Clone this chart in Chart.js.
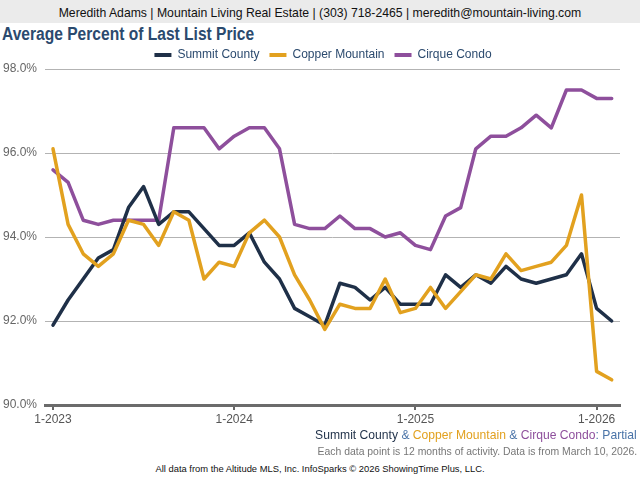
<!DOCTYPE html>
<html>
<head>
<meta charset="utf-8">
<script src="https://cdn.jsdelivr.net/npm/chart.js@4.4.1/dist/chart.umd.min.js"></script>
<style>
  body { margin: 0; width: 640px; height: 480px; position: relative; overflow: hidden; background: #fff; font-family: "Liberation Sans", Arial, sans-serif; }
  #header { position: absolute; left: 0; top: 0; width: 640px; height: 23px; background: #ebebeb; text-align: center; line-height: 24px; color: #111; white-space: nowrap; }
  #header span { display: inline-block; font-size: 13px; transform: scaleX(0.94); }
  #title { position: absolute; left: 2px; top: 24px; font-size: 17.5px; font-weight: bold; color: #2b4a6e; white-space: nowrap; transform: scaleX(0.89); transform-origin: left center; }
  #wrap { position: absolute; left: 0; top: 44px; width: 640px; height: 386px; }
  .note { position: absolute; right: 3px; white-space: nowrap; transform-origin: right center; }
  #partial { top: 427px; font-size: 13px; color: #4a74a8; transform: scaleX(0.933); }
  #info { top: 445px; font-size: 11.5px; color: #777; transform: scaleX(0.905); }
  #source { position: absolute; left: 0; width: 640px; top: 463px; text-align: center; font-size: 9.4px; color: #111; white-space: nowrap; }
</style>
</head>
<body>
<div id="header"><span>Meredith Adams | Mountain Living Real Estate | (303) 718-2465 | meredith@mountain-living.com</span></div>
<div id="title">Average Percent of Last List Price</div>
<div id="wrap"><canvas id="chart"></canvas></div>
<div class="note" id="partial"><span style="color:#1f3048">Summit County</span> &amp; <span style="color:#e2a11f">Copper Mountain</span> &amp; <span style="color:#8e4f9c">Cirque Condo</span>: Partial</div>
<div class="note" id="info">Each data point is 12 months of activity. Data is from March 10, 2026.</div>
<div id="source">All data from the Altitude MLS, Inc. InfoSparks © 2026 ShowingTime Plus, LLC.</div>
<script>
// Months shown on the chart (rolling 12-month points)
const months = [
  "1-2023", "2-2023", "3-2023", "4-2023", "5-2023", "6-2023", "7-2023", "8-2023", "9-2023", "10-2023", "11-2023", "12-2023",
  "1-2024", "2-2024", "3-2024", "4-2024", "5-2024", "6-2024", "7-2024", "8-2024", "9-2024", "10-2024", "11-2024", "12-2024",
  "1-2025", "2-2025", "3-2025", "4-2025", "5-2025", "6-2025", "7-2025", "8-2025", "9-2025", "10-2025", "11-2025", "12-2025",
  "1-2026", "2-2026"
];
const tickLabels = ["1-2023", "1-2024", "1-2025", "1-2026"];

// Percent of last list price
const summitCounty = [91.9, 92.5, 93.0, 93.5, 93.7, 94.7, 95.2, 94.3, 94.6, 94.6, 94.2, 93.8,
  93.8, 94.1, 93.4, 93.0, 92.3, 92.1, 91.9, 92.9, 92.8, 92.5, 92.8, 92.4,
  92.4, 92.4, 93.1, 92.8, 93.1, 92.9, 93.3, 93.0, 92.9, 93.0, 93.1, 93.6,
  92.3, 92.0];
const copperMountain = [96.1, 94.3, 93.6, 93.3, 93.6, 94.4, 94.3, 93.8, 94.6, 94.4, 93.0, 93.4,
  93.3, 94.1, 94.4, 94.0, 93.1, 92.5, 91.8, 92.4, 92.3, 92.3, 93.0, 92.2,
  92.3, 92.8, 92.3, 92.7, 93.1, 93.0, 93.6, 93.2, 93.3, 93.4, 93.8, 95.0,
  90.8, 90.6];
const cirqueCondo = [95.6, 95.3, 94.4, 94.3, 94.4, 94.4, 94.4, 94.4, 96.6, 96.6, 96.6, 96.1,
  96.4, 96.6, 96.6, 96.1, 94.3, 94.2, 94.2, 94.5, 94.2, 94.2, 94.0, 94.1,
  93.8, 93.7, 94.5, 94.7, 96.1, 96.4, 96.4, 96.6, 96.9, 96.6, 97.5, 97.5,
  97.3, 97.3];

const toPoints = values => values.map((v, i) => ({ x: i, y: v }));

const makeSeries = (label, values, color, order) => ({
  label,
  data: toPoints(values),
  borderColor: color,
  backgroundColor: color,
  borderWidth: 3.5,
  pointRadius: 0,
  tension: 0,
  borderJoinStyle: "round",
  borderCapStyle: "round",
  order,
});

// nudge the legend a bit right/down so it sits where the original has it
const legendNudge = {
  id: "legendNudge",
  afterLayout: chart => {
    chart.legend.left += 26;
    chart.legend.top += 2;
  },
};

const ctx = document.getElementById("chart").getContext("2d");
new Chart(ctx, {
  type: "line",
  data: {
    datasets: [
      makeSeries("Summit County", summitCounty, "#1f3048", 1),
      makeSeries("Copper Mountain", copperMountain, "#e2a11f", 0),
      makeSeries("Cirque Condo", cirqueCondo, "#8e4f9c", 2),
    ],
  },
  plugins: [legendNudge],
  options: {
    responsive: true,
    maintainAspectRatio: false,
    animation: false,
    layout: { padding: { left: 0, right: 20, top: -7, bottom: 0 } },
    plugins: {
      tooltip: { enabled: false },
      legend: {
        position: "top",
        labels: {
          boxWidth: 17,
          boxHeight: 4,
          padding: 10,
          color: "#2b4a6e",
          font: { family: "'Liberation Sans', sans-serif", size: 12 },
          sort: (a, b) => a.datasetIndex - b.datasetIndex,
          generateLabels: chart =>
            Chart.defaults.plugins.legend.labels.generateLabels(chart).map(l => ({ ...l, lineWidth: 0 })),
        },
      },
    },
    scales: {
      x: {
        type: "linear",
        min: -0.53,
        max: 37.55,
        afterBuildTicks: scale => {
          scale.ticks = tickLabels.map(l => ({ value: months.indexOf(l) }));
        },
        afterFit: scale => { scale.height = 25; },
        ticks: {
          callback: value => months[value],
          color: "#555",
          font: { family: "'Liberation Sans', sans-serif", size: 12 },
          padding: 2,
          maxRotation: 0,
        },
        grid: { drawOnChartArea: false, drawTicks: true, tickLength: 5, color: "#666", lineWidth: 2 },
        border: { display: true, color: "#6b6b6b", width: 3 },
      },
      y: {
        min: 90,
        max: 98,
        afterFit: scale => { scale.width = 45; },
        ticks: {
          stepSize: 2,
          callback: value => value.toFixed(1) + "%",
          color: "#666",
          font: { family: "'Liberation Sans', sans-serif", size: 12 },
          padding: 8,
        },
        grid: { color: "#b3b3b3", lineWidth: 1, drawTicks: false },
        border: { display: false },
      },
    },
  },
});
</script>
</body>
</html>
